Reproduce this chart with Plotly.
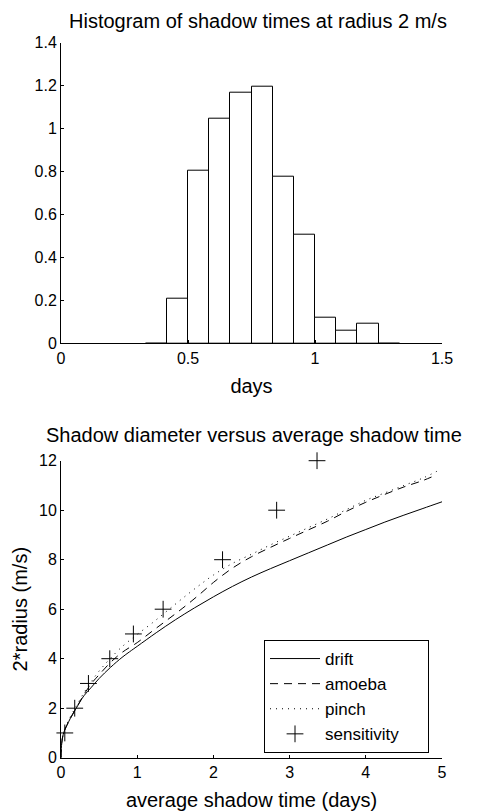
import plotly.graph_objects as go

# ---------------- data ----------------
hist_edges = [1/3, 5/12, 1/2, 7/12, 2/3, 3/4, 5/6, 11/12, 1.0, 13/12, 7/6, 5/4, 4/3]
hist_values = [0.0, 0.21, 0.805, 1.045, 1.165, 1.195, 0.777, 0.507, 0.118, 0.058, 0.09, 0.0]

drift_x = [0, 0.01, 0.03, 0.06, 0.1, 0.15, 0.2, 0.3, 0.4, 0.5, 0.65, 0.8, 0.9, 1.0, 1.25, 1.5, 1.75, 2.0,
           2.25, 2.5, 2.75, 3.0, 3.25, 3.5, 3.75, 4.0, 4.25, 4.5, 4.75, 5.0]
drift_y = [0, 0.6, 0.95, 1.2, 1.45, 1.75, 2.0, 2.5, 2.85, 3.2, 3.65, 4.05, 4.28, 4.5, 5.05, 5.57, 6.05, 6.5,
           6.92, 7.3, 7.64, 7.96, 8.28, 8.6, 8.92, 9.22, 9.52, 9.8, 10.07, 10.34]

amoeba_x = [0, 0.01, 0.03, 0.06, 0.1, 0.2, 0.3, 0.4, 0.5, 0.65, 0.8, 1.0, 1.2, 1.4, 1.6, 1.8, 2.0,
            2.25, 2.5, 2.75, 3.0, 3.25, 3.5, 3.75, 4.0, 4.25, 4.5, 4.75, 4.93]
amoeba_y = [0, 0.6, 0.95, 1.2, 1.45, 2.0, 2.55, 3.0, 3.35, 3.85, 4.25, 4.65, 5.12, 5.58, 6.05, 6.55, 7.08,
            7.66, 8.12, 8.5, 8.86, 9.21, 9.56, 9.96, 10.32, 10.64, 10.94, 11.2, 11.43]

pinch_x = [0, 0.01, 0.03, 0.06, 0.1, 0.2, 0.3, 0.4, 0.5, 0.65, 0.8, 1.0, 1.2, 1.4, 1.6, 1.8, 2.0,
           2.25, 2.5, 2.75, 3.0, 3.25, 3.5, 3.75, 4.0, 4.25, 4.5, 4.75, 4.95]
pinch_y = [0, 0.6, 0.95, 1.22, 1.52, 2.08, 2.62, 3.08, 3.5, 4.02, 4.48, 4.98, 5.45, 5.95, 6.45, 6.93, 7.38,
           7.85, 8.22, 8.6, 8.95, 9.3, 9.65, 10.03, 10.4, 10.7, 11.0, 11.3, 11.6]

sens_x = [0.05, 0.18, 0.36, 0.64, 0.95, 1.34, 2.12, 2.83, 3.36]
sens_y = [1, 2, 3, 4, 5, 6, 8, 10, 12]

hist_xticks = [0, 0.5, 1, 1.5]
hist_xticklabels = ["0", "0.5", "1", "1.5"]
hist_yticks = [0, 0.2, 0.4, 0.6, 0.8, 1.0, 1.2, 1.4]
hist_yticklabels = ["0", "0.2", "0.4", "0.6", "0.8", "1", "1.2", "1.4"]

# ---------------- figure ----------------
# page body has an 8px margin, so the figure is 8px smaller than the window and
# all pixel positions below are measured from the figure's own corner.
W, H = 475, 804

def px_x(p):
    return (p - 8) / W

def px_y(p):
    return (H - (p - 8)) / H

centers = [(hist_edges[i] + hist_edges[i + 1]) / 2 for i in range(len(hist_values))]
widths = [hist_edges[i + 1] - hist_edges[i] for i in range(len(hist_values))]

FONT = "Liberation Sans, Arial, sans-serif"

fig = go.Figure()
fig.add_trace(go.Bar(
    x=centers, y=hist_values, width=widths,
    marker=dict(color="white", line=dict(color="black", width=1)),
    xaxis="x", yaxis="y", showlegend=False,
))

fig.add_trace(go.Scatter(x=drift_x, y=drift_y, mode="lines", name="drift",
                         line=dict(color="black", width=1, shape="spline"), xaxis="x2", yaxis="y2"))
fig.add_trace(go.Scatter(x=amoeba_x, y=amoeba_y, mode="lines", name="amoeba",
                         line=dict(color="black", width=1, dash="8px,6px", shape="spline"),
                         xaxis="x2", yaxis="y2"))
fig.add_trace(go.Scatter(x=pinch_x, y=pinch_y, mode="lines", name="pinch",
                         line=dict(color="black", width=1, dash="1px,5px", shape="spline"),
                         xaxis="x2", yaxis="y2"))
fig.add_trace(go.Scatter(x=sens_x, y=sens_y, mode="markers", name="sensitivity",
                         cliponaxis=False,
                         marker=dict(symbol="cross-thin-open", size=12,
                                     line=dict(color="black", width=1), color="black"),
                         xaxis="x2", yaxis="y2"))

axis_common = dict(showline=True, linecolor="black", linewidth=1, ticks="inside",
                   ticklen=3, tickcolor="black", tickwidth=1, showgrid=False,
                   zeroline=False, mirror=False, automargin=False,
                   tickfont=dict(family=FONT, size=16, color="black"))

NB = "\u00a0"

fig.update_layout(
    width=W, height=H,
    margin=dict(l=0, r=0, t=0, b=0, pad=0),
    paper_bgcolor="white", plot_bgcolor="white",
    bargap=0,
    font=dict(family=FONT, color="black"),
    xaxis=dict(domain=[px_x(61), px_x(442)], range=[0, 1.5], anchor="y",
               tickvals=hist_xticks, ticktext=hist_xticklabels,
               title=dict(text="days", font=dict(size=20), standoff=13),
               **axis_common),
    yaxis=dict(domain=[px_y(343.3), px_y(42.7)], range=[0, 1.4], anchor="x",
               tickvals=hist_yticks, ticktext=hist_yticklabels, **axis_common),
    xaxis2=dict(domain=[px_x(61), px_x(442)], range=[0, 5], anchor="y2",
                tickvals=[0, 1, 2, 3, 4, 5],
                title=dict(text="average shadow time (days)", font=dict(size=20), standoff=13),
                **axis_common),
    yaxis2=dict(domain=[px_y(757.7), px_y(460.7)], range=[0, 12], anchor="x2",
                tickvals=[0, 2, 4, 6, 8, 10, 12],
                title=dict(text="2*radius (m/s)", font=dict(size=20), standoff=5),
                **axis_common),
    legend=dict(x=px_x(264), y=px_y(640), xanchor="left", yanchor="top",
                bordercolor="black", borderwidth=1, bgcolor="white",
                font=dict(family=FONT, size=17, color="black"),
                itemwidth=50, tracegroupgap=0),
    annotations=[
        dict(text="Histogram of shadow times at radius 2 m/s", x=px_x(258), y=1 - 26 / H,
             xref="paper", yref="paper", xanchor="center", yanchor="bottom",
             showarrow=False, font=dict(family=FONT, size=20, color="black")),
        dict(text="Shadow diameter versus average shadow time", x=px_x(254), y=1 - 440 / H,
             xref="paper", yref="paper", xanchor="center", yanchor="bottom",
             showarrow=False, font=dict(family=FONT, size=20, color="black")),
    ],
)

# widen the legend box a little on the right, as in the original
for tr in fig.data:
    if tr.name:
        tr.name = tr.name + NB * 5

fig.write_html("out.html")
